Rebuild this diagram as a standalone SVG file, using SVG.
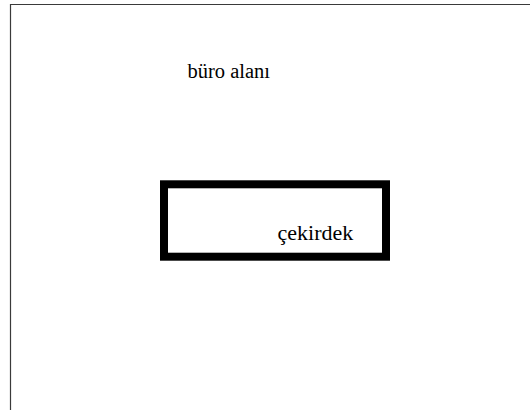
<svg xmlns="http://www.w3.org/2000/svg" width="530" height="410" viewBox="0 0 530 410">
<style>
text{font-family:"Times New Roman","Liberation Serif",Tinos,"DejaVu Serif",serif;fill:#000}
</style>
<rect x="0" y="0" width="530" height="410" fill="#fff"/>
<g id="frame"><path d="M10.5 410 V4.5 H530" fill="none" stroke="#3a3a3a" stroke-width="1.2"/></g>
<g id="buro"><text x="187.5" y="78" font-size="20.5">büro alanı</text></g>
<g id="cekirdek">
<rect x="164" y="184.3" width="222" height="72.4" fill="none" stroke="#000" stroke-width="8"/>
<text x="277.5" y="240" font-size="22">çekirdek</text>
</g>
<g id="connectors"/>
</svg>
